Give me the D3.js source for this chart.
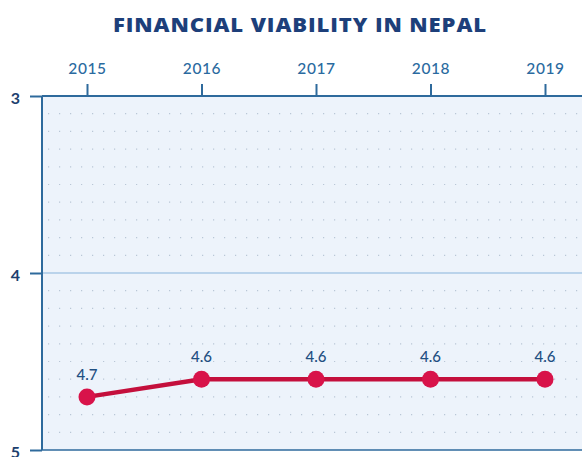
<!DOCTYPE html>
<html><head><meta charset="utf-8">
<script src="https://cdn.jsdelivr.net/npm/d3@7"></script>
<style>
body{margin:0;background:#fff;}
svg{display:block;}
</style></head>
<body>
<svg id="chart" width="582" height="457"></svg>
<script>
const title = "FINANCIAL VIABILITY IN NEPAL";
const years = ["2015","2016","2017","2018","2019"];
const scores = [4.7, 4.6, 4.6, 4.6, 4.6];
const yTicks = [3, 4, 5];
const minorTicks = d3.range(31, 50).map(d => d / 10).filter(d => d !== 4);

(function () {
const svg = d3.select("#chart");
const pL = 42, pR = 582, pT = 96, pB = 450;

const x = d3.scalePoint().domain(years).range([87, 545]);
const y = d3.scaleLinear().domain([3, 5]).range([pT, pB]);

// panel
svg.append("rect").attr("x", pL).attr("y", pT).attr("width", pR - pL).attr("height", pB - pT)
  .attr("fill", "#edf3fb");

// dotted minor grid
svg.append("g").selectAll("line").data(minorTicks).join("line")
  .attr("x1", pL + 6).attr("x2", pR)
  .attr("y1", d => y(d)).attr("y2", d => y(d))
  .attr("stroke", "#b9c6d6").attr("stroke-width", 1.2)
  .attr("stroke-dasharray", "1.2 9.8");

// solid grid at 4
svg.append("line").attr("x1", pL).attr("x2", pR).attr("y1", y(4)).attr("y2", y(4))
  .attr("stroke", "#a9c8e6").attr("stroke-width", 1.5);

// bottom line
svg.append("line").attr("x1", pL).attr("x2", pR).attr("y1", pB).attr("y2", pB)
  .attr("stroke", "#2e6a9c").attr("stroke-width", 1.5);

// top axis
const xAxis = d3.axisTop(x).tickSize(12).tickPadding(10);
const gx = svg.append("g").attr("transform", `translate(0,${pT})`).call(xAxis);
gx.select(".domain").remove();
gx.selectAll(".tick line").attr("stroke", "#2e6a9c").attr("stroke-width", 2);
gx.selectAll(".tick text").attr("fill", "#2a6aa0").attr("font-family", "Lato, sans-serif")
  .attr("font-size", 15.5).attr("font-weight", 500).attr("letter-spacing", "0.6px");
svg.append("line").attr("x1", pL).attr("x2", pR).attr("y1", pT).attr("y2", pT)
  .attr("stroke", "#2e6a9c").attr("stroke-width", 2);

// left axis
const yAxis = d3.axisLeft(y).tickValues(yTicks).tickSize(12).tickPadding(10).tickFormat(d3.format("d"));
const gy = svg.append("g").attr("transform", `translate(${pL},0)`).call(yAxis);
gy.select(".domain").remove();
gy.selectAll(".tick line").attr("stroke", "#2e6a9c").attr("stroke-width", 2);
gy.selectAll(".tick text").attr("fill", "#1d3f6e").attr("font-family", "Lato, sans-serif")
  .attr("font-size", 16).attr("font-weight", 700).attr("dy", "0.45em");
svg.append("line").attr("x1", pL).attr("x2", pL).attr("y1", pT).attr("y2", pB)
  .attr("stroke", "#2e6a9c").attr("stroke-width", 2);

// title
svg.append("text").attr("x", 300).attr("y", 32).attr("text-anchor", "middle")
  .attr("fill", "#1d3f7a").attr("font-family", "'Open Sans', sans-serif").attr("font-weight", 800)
  .attr("font-size", 20).attr("letter-spacing", "0.8px")
  .attr("textLength", 374).attr("lengthAdjust", "spacingAndGlyphs").text(title);

// line
const data = years.map((yr, i) => ({yr, v: scores[i]}));
svg.append("path").datum(data)
  .attr("d", d3.line().x(d => x(d.yr)).y(d => y(d.v)))
  .attr("fill", "none").attr("stroke", "#c40f3c").attr("stroke-width", 4.5);

svg.append("g").selectAll("circle").data(data).join("circle")
  .attr("cx", d => x(d.yr)).attr("cy", d => y(d.v)).attr("r", 8.5)
  .attr("fill", "#d8134a");

svg.append("g").selectAll("text").data(data).join("text")
  .attr("x", d => x(d.yr)).attr("y", d => y(d.v) - 17)
  .attr("text-anchor", "middle").attr("fill", "#1f4f82")
  .attr("font-family", "Lato, sans-serif").attr("font-size", 15).attr("font-weight", 500)
  .text(d => d.v.toFixed(1));
})();
</script>
</body></html>
